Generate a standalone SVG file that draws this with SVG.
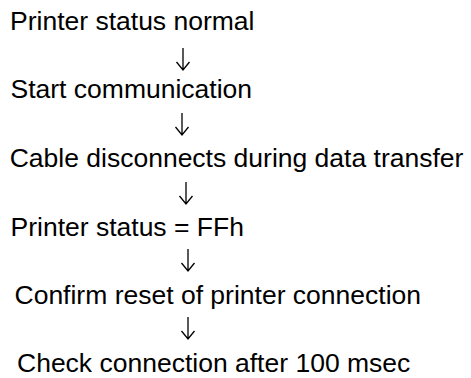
<svg xmlns="http://www.w3.org/2000/svg" width="471" height="378" viewBox="0 0 471 378">
<style>
text{font-family:"Liberation Sans",Arial,sans-serif;font-size:26.5px;fill:#000}
.arr{fill:none;stroke:#000;stroke-width:1.3}
</style>
<rect width="471" height="378" fill="#fff"/>
<g id="n1"><text x="10" y="30">Printer status normal</text></g>
<g id="n2"><text x="10.5" y="98">Start communication</text></g>
<g id="n3"><text x="9.7" y="167">Cable disconnects during data transfer</text></g>
<g id="n4"><text x="10.5" y="236">Printer status = FFh</text></g>
<g id="n5"><text x="14.5" y="304">Confirm reset of printer connection</text></g>
<g id="n6"><text x="17" y="372">Check connection after 100 msec</text></g>
<g id="connectors">
<path class="arr" d="M183,48V70M176.5,62L183,70L189.5,62"/>
<path class="arr" d="M182,113V135M175.5,127L182,135L188.5,127"/>
<path class="arr" d="M186,182V204M179.5,196L186,204L192.5,196"/>
<path class="arr" d="M188,249V271M181.5,263L188,271L194.5,263"/>
<path class="arr" d="M188,317V339M181.5,331L188,339L194.5,331"/>
</g>
</svg>
